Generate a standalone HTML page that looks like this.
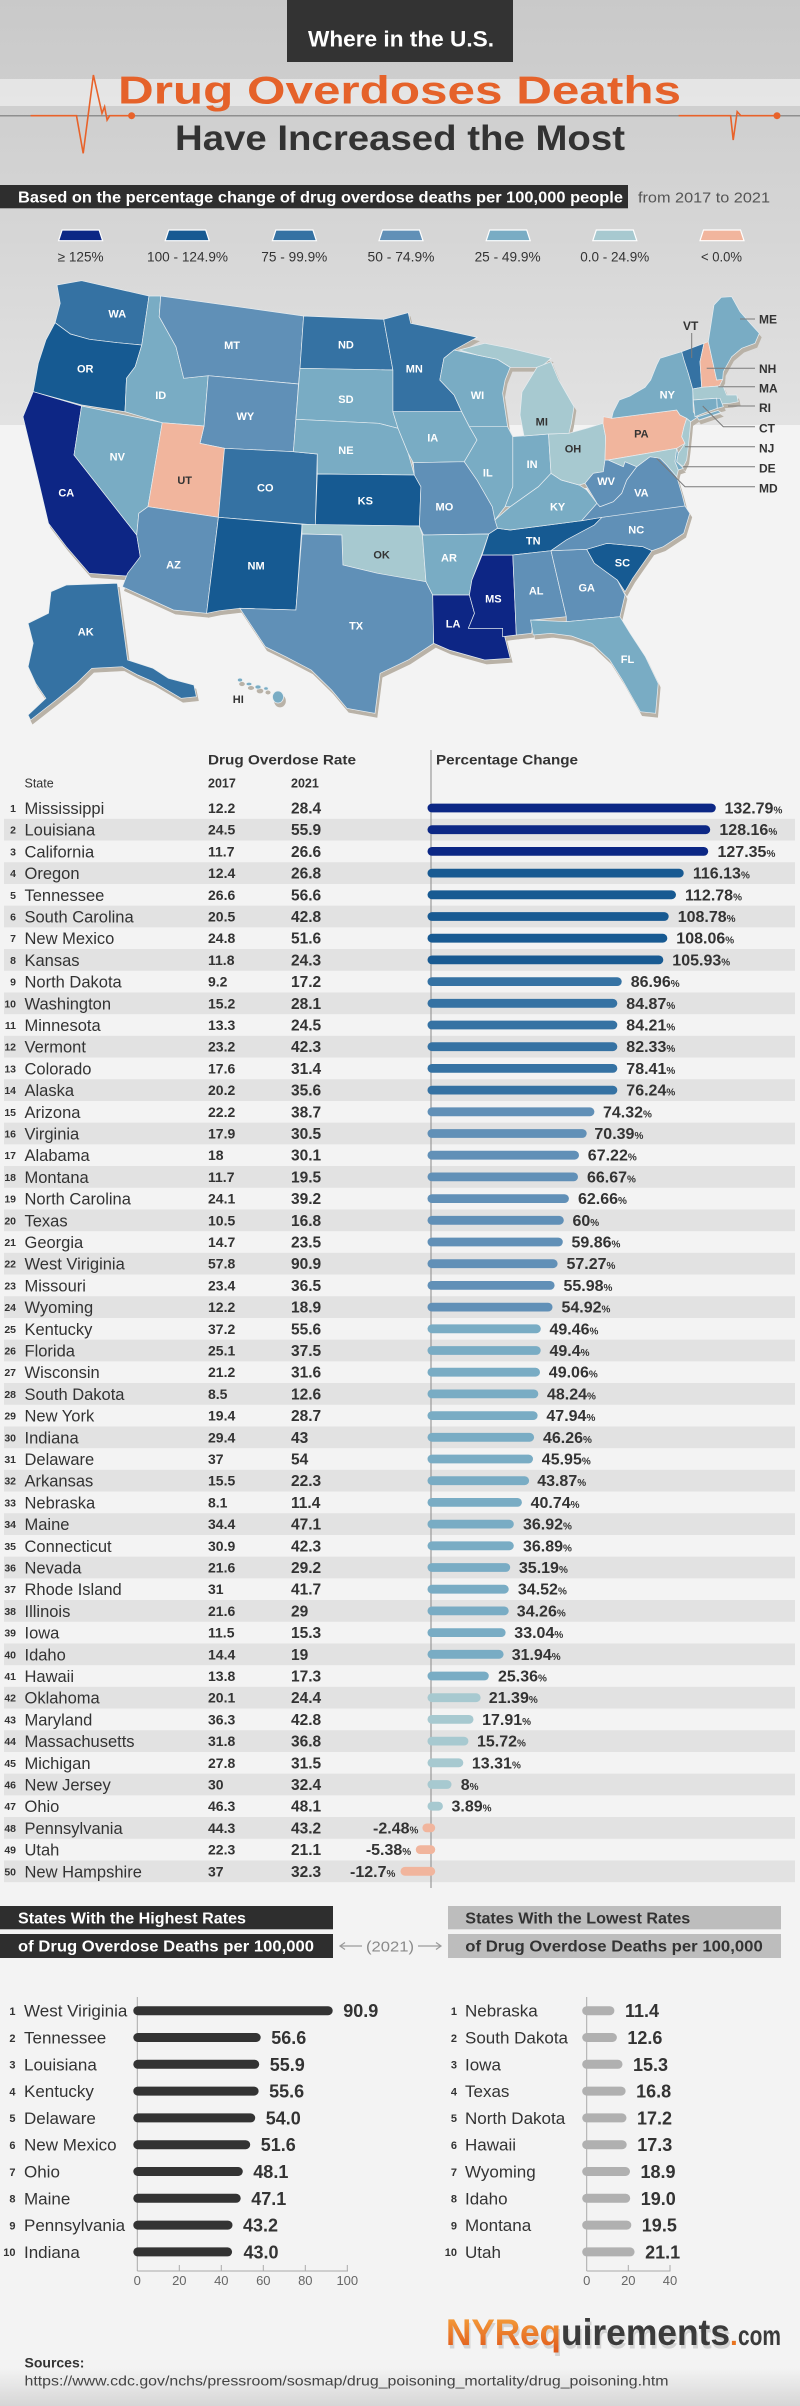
<!DOCTYPE html>
<html><head><meta charset="utf-8"><title>Where in the U.S. Drug Overdoses Deaths Have Increased the Most</title>
<style>
html,body{margin:0;padding:0;background:#f3f3f3}
svg{display:block}
text{font-family:"Liberation Sans",Arial,sans-serif;fill:#333}
.rk{font-size:10.5px;font-weight:bold;text-anchor:end}
.nm{font-size:16.5px}
.a{font-size:14px;font-weight:bold}
.b{font-size:15.5px;font-weight:bold}
.p{font-size:16px;font-weight:bold}
.p tspan{font-size:10px}
.ml{font-size:11px;font-weight:bold;fill:#fff;text-anchor:middle}
.md{fill:#333}
.nl{font-size:12px;font-weight:bold;fill:#333}
.c1{fill:#0c2785}.c2{fill:#185a92}.c3{fill:#3572a3}.c4{fill:#6190b7}.c5{fill:#79acc4}.c6{fill:#a7c9d0}.c7{fill:#f1b59d}
.st polygon,.st ellipse{stroke:#e6edf1;stroke-width:0.7}
.bn{font-size:17px}
.bv{font-size:18px;font-weight:bold}
.br{font-size:11px;font-weight:bold;text-anchor:end}
.ax{font-size:13px;fill:#666;text-anchor:middle}
.lg{font-size:13.5px;text-anchor:middle}
</style></head>
<body>
<svg width="800" height="2406" viewBox="0 0 800 2406" xmlns="http://www.w3.org/2000/svg">
<defs>
<linearGradient id="hdr" x1="0" y1="0" x2="0" y2="1">
<stop offset="0" stop-color="#c9c9c9"/><stop offset="0.55" stop-color="#d6d6d6"/><stop offset="1" stop-color="#e2e2e2"/>
</linearGradient>
<linearGradient id="btm" x1="0" y1="0" x2="0" y2="1">
<stop offset="0" stop-color="#f3f3f3"/><stop offset="1" stop-color="#d6d6d6"/>
</linearGradient>
<linearGradient id="og" x1="0" y1="0" x2="0" y2="1">
<stop offset="0" stop-color="#f7a73f"/><stop offset="1" stop-color="#df5519"/>
</linearGradient>
<filter id="sh" x="-5%" y="-5%" width="110%" height="115%">
<feOffset in="SourceAlpha" dx="2" dy="4" result="o"/>
<feFlood flood-color="#b9b2a7"/>
<feComposite in2="o" operator="in" result="s"/>
<feMerge><feMergeNode in="s"/><feMergeNode in="SourceGraphic"/></feMerge>
</filter>
</defs>

<!-- backgrounds -->
<rect x="0" y="0" width="800" height="2406" fill="#f3f3f3"/>
<rect x="0" y="0" width="800" height="425" fill="url(#hdr)"/>
<rect x="0" y="2368" width="800" height="38" fill="url(#btm)"/>

<!-- header -->
<rect x="287" y="0" width="226" height="62" fill="#333"/>
<text x="308" y="46.7" font-size="22" font-weight="bold" style="fill:#fff" textLength="186" lengthAdjust="spacingAndGlyphs">Where in the U.S.</text>
<rect x="0" y="79" width="800" height="27" fill="#efefef" opacity="0.7"/>
<line x1="0" y1="115.7" x2="800" y2="115.7" stroke="#8f8f8f" stroke-width="1.5"/>
<polyline points="30.6,115.7 76.5,115.7 83.2,153.3 93.4,75 102,113.3 104.6,106.7 107.1,120 109.7,115.7 131.6,115.7" fill="none" stroke="#e8622a" stroke-width="1.6"/>
<circle cx="131.6" cy="115.7" r="3.5" fill="#e8622a"/>
<polyline points="678.6,115.7 730.6,115.7 733.2,140 737.2,111.7 740.8,115.7 777,115.7" fill="none" stroke="#e8622a" stroke-width="1.6"/>
<circle cx="777" cy="115.7" r="3.5" fill="#e8622a"/>
<text x="118" y="103.3" font-size="39" font-weight="bold" style="fill:#e5622a" textLength="563" lengthAdjust="spacingAndGlyphs">Drug Overdoses Deaths</text>
<text x="175" y="150" font-size="35" font-weight="bold" style="fill:#333" textLength="450" lengthAdjust="spacingAndGlyphs">Have Increased the Most</text>

<rect x="0" y="185" width="628" height="23.3" fill="#2e2e2e"/>
<text x="18" y="202.5" font-size="16" font-weight="bold" style="fill:#fff" textLength="605" lengthAdjust="spacingAndGlyphs">Based on the percentage change of drug overdose deaths per 100,000 people</text>
<text x="638" y="202.5" font-size="15" style="fill:#555" textLength="132" lengthAdjust="spacingAndGlyphs">from 2017 to 2021</text>

<!-- legend -->
<g stroke="#fff" stroke-width="1.2">
<polygon class="c1" points="62.1,230 99.1,230 102.6,240.7 58.6,240.7"/>
<polygon class="c2" points="168.7,230 205.7,230 209.2,240.7 165.2,240.7"/>
<polygon class="c3" points="275.9,230 312.9,230 316.4,240.7 272.4,240.7"/>
<polygon class="c4" points="382.5,230 419.5,230 423,240.7 379,240.7"/>
<polygon class="c5" points="489.7,230 526.7,230 530.2,240.7 486.2,240.7"/>
<polygon class="c6" points="596.3,230 633.3,230 636.8,240.7 592.8,240.7"/>
<polygon class="c7" points="703.5,230 740.5,230 744,240.7 700,240.7"/>
</g>
<text class="lg" x="80.6" y="261.7" textLength="46" lengthAdjust="spacingAndGlyphs">≥ 125%</text>
<text class="lg" x="187.5" y="261.7" textLength="81" lengthAdjust="spacingAndGlyphs">100 - 124.9%</text>
<text class="lg" x="294.3" y="261.7" textLength="66" lengthAdjust="spacingAndGlyphs">75 - 99.9%</text>
<text class="lg" x="401" y="261.7" textLength="67" lengthAdjust="spacingAndGlyphs">50 - 74.9%</text>
<text class="lg" x="507.6" y="261.7" textLength="66" lengthAdjust="spacingAndGlyphs">25 - 49.9%</text>
<text class="lg" x="614.8" y="261.7" textLength="69" lengthAdjust="spacingAndGlyphs">0.0 - 24.9%</text>
<text class="lg" x="721.5" y="261.7" textLength="41" lengthAdjust="spacingAndGlyphs">&lt; 0.0%</text>

<!-- map -->
<g class="st" filter="url(#sh)">
<polygon class="c3" points="57,285 81.6,280.7 149,296 141.8,345 117.3,342.7 89.3,339.3 70.4,334 55.1,322.7 60.2,303.3"/>
<polygon class="c2" points="55.1,322.7 70.4,334 89.3,339.3 117.3,342.7 141.8,345 135.2,366.7 126.5,378.3 125,411.7 81.6,405 33.2,391.7 38.3,363.3 45.9,340"/>
<polygon class="c1" points="33.2,391.7 81.6,406 74,455 136.7,535 140.3,556.7 126.5,576 89.3,573.3 66.3,546.7 48.5,523.3 38.3,480 23,416.7"/>
<polygon class="c5" points="81.6,406 162.2,422.7 148,506.7 138.8,513.3 136.7,535 74,455"/>
<polygon class="c5" points="149,296 160.7,296 159.2,316.7 176,346.7 183.7,378.3 208.2,375.7 204.1,426 162.2,422.7 125,411.7 126.5,378.3 135.2,366.7 141.8,345"/>
<polygon class="c4" points="160.7,296 303.6,316 300,368.3 298.5,384 208.2,375.7 183.7,378.3 176,346.7 159.2,316.7"/>
<polygon class="c4" points="208.2,375.7 298.5,384 293.4,451.7 224.5,448.3 200,443.3 204.1,426"/>
<polygon class="c7" points="162.2,422.7 204.1,426 200,443.3 224.5,448.3 218.4,517.3 148,506.7"/>
<polygon class="c3" points="224.5,448.3 293.4,451.7 317.3,454 315.3,525 218.4,517.3"/>
<polygon class="c4" points="148,506.7 218.4,517.3 206.6,613.3 173.5,610 122.4,586.7 127.6,573.3 140.3,556.7 136.7,535 138.8,513.3"/>
<polygon class="c2" points="218.4,517.3 302,524.3 295.9,610 239.8,608.3 219.4,610.7 206.6,613.3"/>
<polygon class="c3" points="303.6,316 383.7,319.3 392.9,370 300,368.3"/>
<polygon class="c5" points="300,368.3 392.9,370 392.9,411.7 398,428.3 378.6,423.3 295.9,419.3"/>
<polygon class="c5" points="295.9,419.3 378.6,423.3 398,428.3 408.2,453.3 414.3,475 317.3,474 317.3,454 293.4,451.7"/>
<polygon class="c2" points="317.3,474 414.3,475 420.9,486.7 419.4,526 315.3,525"/>
<polygon class="c6" points="302,524.3 419.4,526 422.4,535 426,581.7 403,578.3 377.6,573.3 342.9,565 341.8,535 302,534"/>
<polygon class="c4" points="302,534 341.8,535 342.9,565 377.6,573.3 426,581.7 432.7,595 433.7,643.3 408.2,660 380.1,673.3 375,713.3 346.9,708.3 331.6,690 311.2,670 285.7,656.7 265.3,646.7 239.8,608.3 295.9,610"/>
<polygon class="c3" points="383.7,319.3 408.2,312.7 410.7,323.3 443.9,330 477,337.3 454.1,350 443.9,358.3 439.8,380 454.1,395 461.7,411.7 392.9,411.7 392.9,370"/>
<polygon class="c5" points="392.9,411.7 461.7,411.7 469.4,426.7 477,440 464.3,461.7 413.3,462.7 408.2,453.3 398,428.3"/>
<polygon class="c4" points="413.3,462.7 464.3,461.7 477,480 492.3,506.7 497.5,528.3 488.8,534 423.5,535 419.4,526 420.9,486.7 414.3,475"/>
<polygon class="c5" points="423.5,535 488.8,534 482.1,553.3 471.9,580 469.4,595 432.7,595 426,581.7 422.4,535"/>
<polygon class="c1" points="432.7,595 469.4,595 474.5,613.3 468.4,628.3 502.6,628.3 510.2,658.3 484.7,660 449,650 433.7,643.3"/>
<polygon class="c1" points="482.1,555 512.8,555 516.3,635 502.6,636.7 502.6,628.3 468.4,628.3 474.5,613.3 469.4,595 471.9,580"/>
<polygon class="c2" points="497.5,528.3 510.2,530 581.6,520.7 602,517.3 594.4,525 566.3,540 551,550.7 512.8,555 482.1,555 488.8,534"/>
<polygon class="c5" points="510.2,506.7 538.3,486.7 551,473.3 561.2,480 579.1,485 586.7,490 597,503.3 581.6,520.7 510.2,530 497.5,528.3 494.9,520"/>
<polygon class="c5" points="469.4,426.7 507.6,426.7 512.8,436.7 512.8,486.7 505.1,506.7 494.9,520 492.3,506.7 477,480 464.3,461.7 477,440"/>
<polygon class="c5" points="512.8,436.7 548.5,434 551,473.3 538.3,486.7 510.2,506.7 505.1,506.7 512.8,486.7"/>
<polygon class="c6" points="548.5,434 568.9,433.3 586.7,428.3 603,423.3 605.6,436.7 605,460 603.3,471.7 593.3,473.3 585,483.3 579.1,485 561.2,480 551,473.3"/>
<polygon class="c5" points="443.9,358.3 454.1,350 477,355 497.5,359.3 510.2,367.3 505.1,380 502.6,393.3 507.6,426.7 469.4,426.7 461.7,411.7 454.1,395 439.8,380"/>
<polygon class="c6" points="459.2,350 484.7,343.3 510.2,348.3 551,358.3 540.8,367.3 510.2,367.3 497.5,359.3 477,355"/>
<polygon class="c6" points="522,392 537,367.3 551,361.7 558.7,380 566.3,393.3 574,406.7 571.4,423.3 568.9,433.3 548.5,434 524,436 520,415"/>
<polygon class="c4" points="512.8,555 551,550.7 566.3,616.7 533.2,620 531.6,633.3 516.3,635"/>
<polygon class="c4" points="551,550.7 586.7,549.3 594.4,563.3 617.3,580 625,595 619.9,616.7 566.3,621.7 566.3,616.7"/>
<polygon class="c5" points="530.6,620 566.3,621.7 619.9,616.7 630.1,633.3 645.4,656.7 658.2,683.3 655.6,713.3 640.3,711.7 622.4,680 609.7,660 591.8,643.3 571.4,636 551,633.3 533.2,635"/>
<polygon class="c2" points="586.7,549.3 607.1,543.3 642.9,546.7 652,550.7 632.7,578.3 625,591.7 617.3,580 594.4,563.3"/>
<polygon class="c4" points="551,550.7 566.3,540 594.4,525 602,517.3 683.7,504 689.8,513.3 683.7,533.3 663.3,546.7 652,550.7 642.9,546.7 607.1,543.3 586.7,549.3"/>
<polygon class="c4" points="636.7,466.7 650,456.7 660,458.3 666.7,465 676.7,476.7 681.7,493.3 685,506 602,517.3 581.6,520.7 597,503.3 600,506.7 613.3,501.7 621.7,493.3 626.7,480"/>
<polygon class="c4" points="605,460 608.3,460 623.3,466.7 625,461.7 636.7,466.7 626.7,480 621.7,493.3 613.3,501.7 600,506.7 597,503.3 585,483.3 593.3,473.3 603.3,471.7"/>
<polygon class="c7" points="603.3,416.7 611.7,418.3 676.7,410 680,415 686.7,418.3 684,426.7 681.7,436.7 685,443.3 676.7,448.3 608.3,460 605,460 605.6,436.7 603,423.3"/>
<polygon class="c6" points="608.3,460 676.7,448.3 675,461.7 678.3,470 676.7,476.7 666.7,465 660,458.3 650,456.7 636.7,466.7 625,461.7 623.3,466.7"/>
<polygon class="c5" points="676.7,448.3 678.3,453.3 676.7,461.7 683.3,468.3 678.3,470 675,461.7"/>
<polygon class="c6" points="686.7,418.3 690.7,421.7 690,430 688.3,446.7 686.7,460 683.3,466.7 676.7,461.7 678.3,453.3 685,443.3 681.7,436.7 684,426.7"/>
<polygon class="c5" points="660,358.3 681.7,351.7 688.3,373.3 692.7,389 693.3,411.7 697.3,417.3 690.7,421.7 686.7,418.3 680,415 676.7,410 611.7,418.3 613.3,411.7 619.3,400 630,396 645,387.3 650.7,380 656.7,365"/>
<polygon class="c5" points="697,417 718,410.5 721,412.5 699,420"/>
<polygon class="c3" points="681.7,351.7 704,343.3 700,361.7 701.7,387.3 692.7,389 688.3,373.3 684,360"/>
<polygon class="c7" points="704,343.3 708.3,341.7 716.7,380 722.7,379.3 719.3,386 701.7,387.3 700,361.7"/>
<polygon class="c5" points="708.3,341.7 714,305 721.3,297.3 731.7,296.7 740,311.7 751.7,325 759.3,333.3 755,343.3 741.7,348.3 731.7,356.7 723.3,371.7 722.7,379.3 716.7,380"/>
<polygon class="c6" points="692.7,389 701.7,387.3 719.3,386 723.3,386.7 726.7,395 736.7,395 738.3,401.7 730,403.3 720,404 716.7,398.3 693.3,400"/>
<polygon class="c5" points="693.3,400 716.7,398.3 717.3,408.3 703.3,413.3 695,416.7"/>
<polygon class="c5" points="716.7,398.3 720,398.3 723.3,406.7 717.3,408.3"/>
<polygon class="c3" points="28.1,623.3 48.5,613.3 51,591.7 66.3,585 117.3,583.3 127.6,660 153.1,668.3 168.4,678.3 193.9,685 196.4,696.7 181.1,698.3 153.1,681.7 137.8,675 122.4,666.7 91.8,668.3 76.5,683.3 56.1,700 30.6,720 28.1,715 45.9,698.3 35.7,683.3 28.1,666.7 33.2,643.3"/>
<ellipse class="c5" cx="240" cy="680" rx="2.5" ry="1.8"/>
<ellipse class="c5" cx="249" cy="684" rx="2.8" ry="1.6"/>
<ellipse class="c5" cx="258" cy="687" rx="3" ry="2"/>
<ellipse class="c5" cx="266" cy="688.5" rx="2.2" ry="1.6"/>
<ellipse class="c5" cx="278" cy="697" rx="5.5" ry="6"/>
</g>

<!-- map labels -->
<g>
<text class="ml" x="117.3" y="317.3">WA</text>
<text class="ml" x="85.2" y="372.7">OR</text>
<text class="ml" x="66.3" y="496.3">CA</text>
<text class="ml" x="117.3" y="460.7">NV</text>
<text class="ml" x="160.7" y="399">ID</text>
<text class="ml" x="232.1" y="349">MT</text>
<text class="ml" x="245.4" y="420">WY</text>
<text class="ml md" x="184.7" y="484">UT</text>
<text class="ml" x="265.3" y="491.3">CO</text>
<text class="ml" x="173.5" y="568.3">AZ</text>
<text class="ml" x="256.1" y="569.7">NM</text>
<text class="ml" x="345.9" y="348.3">ND</text>
<text class="ml" x="345.9" y="403">SD</text>
<text class="ml" x="345.9" y="454">NE</text>
<text class="ml" x="365.3" y="504.7">KS</text>
<text class="ml md" x="381.6" y="558.3">OK</text>
<text class="ml" x="356.1" y="629.7">TX</text>
<text class="ml" x="414.3" y="372.7">MN</text>
<text class="ml" x="432.7" y="441.7">IA</text>
<text class="ml" x="444.4" y="510.7">MO</text>
<text class="ml" x="449" y="561.7">AR</text>
<text class="ml" x="453.1" y="627.3">LA</text>
<text class="ml" x="477.5" y="399">WI</text>
<text class="ml" x="487.8" y="476.3">IL</text>
<text class="ml md" x="541.8" y="425.7">MI</text>
<text class="ml" x="532.1" y="468">IN</text>
<text class="ml md" x="573" y="452.3">OH</text>
<text class="ml" x="557.6" y="510.7">KY</text>
<text class="ml" x="533.2" y="544.7">TN</text>
<text class="ml" x="493.4" y="602.3">MS</text>
<text class="ml" x="536.2" y="594.7">AL</text>
<text class="ml" x="586.7" y="591.3">GA</text>
<text class="ml" x="627.5" y="663">FL</text>
<text class="ml" x="622.4" y="566.7">SC</text>
<text class="ml" x="636.2" y="533.3">NC</text>
<text class="ml" x="641.3" y="496.3">VA</text>
<text class="ml" x="606.1" y="485">WV</text>
<text class="ml md" x="641.3" y="437.3">PA</text>
<text class="ml" x="667.3" y="398.3">NY</text>
<text class="ml" x="85.7" y="635.7">AK</text>
<text class="ml md" x="238.3" y="703">HI</text>
</g>
<g stroke="#7a7a7a" stroke-width="1" fill="none">
<line x1="740" y1="319" x2="755" y2="319"/>
<line x1="691.7" y1="333" x2="691.7" y2="358"/>
<line x1="706.7" y1="368.3" x2="755" y2="368.3"/>
<line x1="718.3" y1="386.7" x2="755" y2="386.7"/>
<line x1="728" y1="406" x2="755" y2="406"/>
<polyline points="702.7,406 723.3,426.7 755,426.7"/>
<line x1="685" y1="446.7" x2="755" y2="446.7"/>
<line x1="683" y1="466.7" x2="755" y2="466.7"/>
<polyline points="656.7,458.3 685,486.7 755,486.7"/>
</g>
<text class="nl" x="759" y="323.3">ME</text>
<text class="nl" x="683" y="330">VT</text>
<text class="nl" x="759" y="373">NH</text>
<text class="nl" x="759" y="392.5">MA</text>
<text class="nl" x="759" y="412">RI</text>
<text class="nl" x="759" y="432.5">CT</text>
<text class="nl" x="759" y="452.5">NJ</text>
<text class="nl" x="759" y="472.5">DE</text>
<text class="nl" x="759" y="492.5">MD</text>

<!-- table header -->
<text x="208" y="764.5" class="a" textLength="148" lengthAdjust="spacingAndGlyphs">Drug Overdose Rate</text>
<text x="436" y="764.5" class="a" textLength="142" lengthAdjust="spacingAndGlyphs">Percentage Change</text>
<text x="24.5" y="787.5" font-size="12.5">State</text>
<text x="208" y="787.5" font-size="12.5" font-weight="bold">2017</text>
<text x="291" y="787.5" font-size="12.5" font-weight="bold">2021</text>

<!-- stripes -->
<g fill="#e2e2e2">
<rect x="4" y="818.85" width="791" height="21.7"/>
<rect x="4" y="862.25" width="791" height="21.7"/>
<rect x="4" y="905.65" width="791" height="21.7"/>
<rect x="4" y="949.05" width="791" height="21.7"/>
<rect x="4" y="992.45" width="791" height="21.7"/>
<rect x="4" y="1035.85" width="791" height="21.7"/>
<rect x="4" y="1079.25" width="791" height="21.7"/>
<rect x="4" y="1122.65" width="791" height="21.7"/>
<rect x="4" y="1166.05" width="791" height="21.7"/>
<rect x="4" y="1209.45" width="791" height="21.7"/>
<rect x="4" y="1252.85" width="791" height="21.7"/>
<rect x="4" y="1296.25" width="791" height="21.7"/>
<rect x="4" y="1339.65" width="791" height="21.7"/>
<rect x="4" y="1383.05" width="791" height="21.7"/>
<rect x="4" y="1426.45" width="791" height="21.7"/>
<rect x="4" y="1469.85" width="791" height="21.7"/>
<rect x="4" y="1513.25" width="791" height="21.7"/>
<rect x="4" y="1556.65" width="791" height="21.7"/>
<rect x="4" y="1600.05" width="791" height="21.7"/>
<rect x="4" y="1643.45" width="791" height="21.7"/>
<rect x="4" y="1686.85" width="791" height="21.7"/>
<rect x="4" y="1730.25" width="791" height="21.7"/>
<rect x="4" y="1773.65" width="791" height="21.7"/>
<rect x="4" y="1817.05" width="791" height="21.7"/>
<rect x="4" y="1860.45" width="791" height="21.7"/>
</g>
<line x1="431" y1="750" x2="431" y2="1888" stroke="#9a9a9a" stroke-width="1.2"/>

<!-- rows -->
<g transform="translate(0,808)"><text class="rk" x="16" y="4">1</text><text class="nm" x="24.5" y="6">Mississippi</text><text class="a" x="208" y="5">12.2</text><text class="b" x="291" y="5.5">28.4</text><rect class="c1" x="427.5" y="-4.4" width="288.3" height="8.8" rx="4.4"/><text class="p" x="724.5" y="5.5">132.79<tspan>%</tspan></text></g>
<g transform="translate(0,829.7)"><text class="rk" x="16" y="4">2</text><text class="nm" x="24.5" y="6">Louisiana</text><text class="a" x="208" y="5">24.5</text><text class="b" x="291" y="5.5">55.9</text><rect class="c1" x="427.5" y="-4.4" width="282.7" height="8.8" rx="4.4"/><text class="p" x="719.4" y="5.5">128.16<tspan>%</tspan></text></g>
<g transform="translate(0,851.4)"><text class="rk" x="16" y="4">3</text><text class="nm" x="24.5" y="6">California</text><text class="a" x="208" y="5">11.7</text><text class="b" x="291" y="5.5">26.6</text><rect class="c1" x="427.5" y="-4.4" width="280.7" height="8.8" rx="4.4"/><text class="p" x="717.5" y="5.5">127.35<tspan>%</tspan></text></g>
<g transform="translate(0,873.1)"><text class="rk" x="16" y="4">4</text><text class="nm" x="24.5" y="6">Oregon</text><text class="a" x="208" y="5">12.4</text><text class="b" x="291" y="5.5">26.8</text><rect class="c2" x="427.5" y="-4.4" width="256.2" height="8.8" rx="4.4"/><text class="p" x="692.9" y="5.5">116.13<tspan>%</tspan></text></g>
<g transform="translate(0,894.8)"><text class="rk" x="16" y="4">5</text><text class="nm" x="24.5" y="6">Tennessee</text><text class="a" x="208" y="5">26.6</text><text class="b" x="291" y="5.5">56.6</text><rect class="c2" x="427.5" y="-4.4" width="248.5" height="8.8" rx="4.4"/><text class="p" x="685" y="5.5">112.78<tspan>%</tspan></text></g>
<g transform="translate(0,916.5)"><text class="rk" x="16" y="4">6</text><text class="nm" x="24.5" y="6">South Carolina</text><text class="a" x="208" y="5">20.5</text><text class="b" x="291" y="5.5">42.8</text><rect class="c2" x="427.5" y="-4.4" width="241.2" height="8.8" rx="4.4"/><text class="p" x="677.7" y="5.5">108.78<tspan>%</tspan></text></g>
<g transform="translate(0,938.2)"><text class="rk" x="16" y="4">7</text><text class="nm" x="24.5" y="6">New Mexico</text><text class="a" x="208" y="5">24.8</text><text class="b" x="291" y="5.5">51.6</text><rect class="c2" x="427.5" y="-4.4" width="239.8" height="8.8" rx="4.4"/><text class="p" x="676.3" y="5.5">108.06<tspan>%</tspan></text></g>
<g transform="translate(0,959.9)"><text class="rk" x="16" y="4">8</text><text class="nm" x="24.5" y="6">Kansas</text><text class="a" x="208" y="5">11.8</text><text class="b" x="291" y="5.5">24.3</text><rect class="c2" x="427.5" y="-4.4" width="235.8" height="8.8" rx="4.4"/><text class="p" x="672.3" y="5.5">105.93<tspan>%</tspan></text></g>
<g transform="translate(0,981.6)"><text class="rk" x="16" y="4">9</text><text class="nm" x="24.5" y="6">North Dakota</text><text class="a" x="208" y="5">9.2</text><text class="b" x="291" y="5.5">17.2</text><rect class="c3" x="427.5" y="-4.4" width="194.2" height="8.8" rx="4.4"/><text class="p" x="630.7" y="5.5">86.96<tspan>%</tspan></text></g>
<g transform="translate(0,1003.3)"><text class="rk" x="16" y="4">10</text><text class="nm" x="24.5" y="6">Washington</text><text class="a" x="208" y="5">15.2</text><text class="b" x="291" y="5.5">28.1</text><rect class="c3" x="427.5" y="-4.4" width="189.8" height="8.8" rx="4.4"/><text class="p" x="626.3" y="5.5">84.87<tspan>%</tspan></text></g>
<g transform="translate(0,1025)"><text class="rk" x="16" y="4">11</text><text class="nm" x="24.5" y="6">Minnesota</text><text class="a" x="208" y="5">13.3</text><text class="b" x="291" y="5.5">24.5</text><rect class="c3" x="427.5" y="-4.4" width="189.8" height="8.8" rx="4.4"/><text class="p" x="626.3" y="5.5">84.21<tspan>%</tspan></text></g>
<g transform="translate(0,1046.7)"><text class="rk" x="16" y="4">12</text><text class="nm" x="24.5" y="6">Vermont</text><text class="a" x="208" y="5">23.2</text><text class="b" x="291" y="5.5">42.3</text><rect class="c3" x="427.5" y="-4.4" width="189.8" height="8.8" rx="4.4"/><text class="p" x="626.3" y="5.5">82.33<tspan>%</tspan></text></g>
<g transform="translate(0,1068.4)"><text class="rk" x="16" y="4">13</text><text class="nm" x="24.5" y="6">Colorado</text><text class="a" x="208" y="5">17.6</text><text class="b" x="291" y="5.5">31.4</text><rect class="c3" x="427.5" y="-4.4" width="189.8" height="8.8" rx="4.4"/><text class="p" x="626.3" y="5.5">78.41<tspan>%</tspan></text></g>
<g transform="translate(0,1090.1)"><text class="rk" x="16" y="4">14</text><text class="nm" x="24.5" y="6">Alaska</text><text class="a" x="208" y="5">20.2</text><text class="b" x="291" y="5.5">35.6</text><rect class="c3" x="427.5" y="-4.4" width="189.8" height="8.8" rx="4.4"/><text class="p" x="626.3" y="5.5">76.24<tspan>%</tspan></text></g>
<g transform="translate(0,1111.8)"><text class="rk" x="16" y="4">15</text><text class="nm" x="24.5" y="6">Arizona</text><text class="a" x="208" y="5">22.2</text><text class="b" x="291" y="5.5">38.7</text><rect class="c4" x="427.5" y="-4.4" width="166.9" height="8.8" rx="4.4"/><text class="p" x="603" y="5.5">74.32<tspan>%</tspan></text></g>
<g transform="translate(0,1133.5)"><text class="rk" x="16" y="4">16</text><text class="nm" x="24.5" y="6">Virginia</text><text class="a" x="208" y="5">17.9</text><text class="b" x="291" y="5.5">30.5</text><rect class="c4" x="427.5" y="-4.4" width="159.2" height="8.8" rx="4.4"/><text class="p" x="594.4" y="5.5">70.39<tspan>%</tspan></text></g>
<g transform="translate(0,1155.2)"><text class="rk" x="16" y="4">17</text><text class="nm" x="24.5" y="6">Alabama</text><text class="a" x="208" y="5">18</text><text class="b" x="291" y="5.5">30.1</text><rect class="c4" x="427.5" y="-4.4" width="151.5" height="8.8" rx="4.4"/><text class="p" x="587.8" y="5.5">67.22<tspan>%</tspan></text></g>
<g transform="translate(0,1176.9)"><text class="rk" x="16" y="4">18</text><text class="nm" x="24.5" y="6">Montana</text><text class="a" x="208" y="5">11.7</text><text class="b" x="291" y="5.5">19.5</text><rect class="c4" x="427.5" y="-4.4" width="150.5" height="8.8" rx="4.4"/><text class="p" x="587" y="5.5">66.67<tspan>%</tspan></text></g>
<g transform="translate(0,1198.6)"><text class="rk" x="16" y="4">19</text><text class="nm" x="24.5" y="6">North Carolina</text><text class="a" x="208" y="5">24.1</text><text class="b" x="291" y="5.5">39.2</text><rect class="c4" x="427.5" y="-4.4" width="141.4" height="8.8" rx="4.4"/><text class="p" x="578" y="5.5">62.66<tspan>%</tspan></text></g>
<g transform="translate(0,1220.3)"><text class="rk" x="16" y="4">20</text><text class="nm" x="24.5" y="6">Texas</text><text class="a" x="208" y="5">10.5</text><text class="b" x="291" y="5.5">16.8</text><rect class="c4" x="427.5" y="-4.4" width="136.3" height="8.8" rx="4.4"/><text class="p" x="572.5" y="5.5">60<tspan>%</tspan></text></g>
<g transform="translate(0,1242)"><text class="rk" x="16" y="4">21</text><text class="nm" x="24.5" y="6">Georgia</text><text class="a" x="208" y="5">14.7</text><text class="b" x="291" y="5.5">23.5</text><rect class="c4" x="427.5" y="-4.4" width="135.3" height="8.8" rx="4.4"/><text class="p" x="571.5" y="5.5">59.86<tspan>%</tspan></text></g>
<g transform="translate(0,1263.7)"><text class="rk" x="16" y="4">22</text><text class="nm" x="24.5" y="6">West Viriginia</text><text class="a" x="208" y="5">57.8</text><text class="b" x="291" y="5.5">90.9</text><rect class="c4" x="427.5" y="-4.4" width="130.1" height="8.8" rx="4.4"/><text class="p" x="566.5" y="5.5">57.27<tspan>%</tspan></text></g>
<g transform="translate(0,1285.4)"><text class="rk" x="16" y="4">23</text><text class="nm" x="24.5" y="6">Missouri</text><text class="a" x="208" y="5">23.4</text><text class="b" x="291" y="5.5">36.5</text><rect class="c4" x="427.5" y="-4.4" width="127.1" height="8.8" rx="4.4"/><text class="p" x="563.5" y="5.5">55.98<tspan>%</tspan></text></g>
<g transform="translate(0,1307.1)"><text class="rk" x="16" y="4">24</text><text class="nm" x="24.5" y="6">Wyoming</text><text class="a" x="208" y="5">12.2</text><text class="b" x="291" y="5.5">18.9</text><rect class="c4" x="427.5" y="-4.4" width="125" height="8.8" rx="4.4"/><text class="p" x="561.5" y="5.5">54.92<tspan>%</tspan></text></g>
<g transform="translate(0,1328.8)"><text class="rk" x="16" y="4">25</text><text class="nm" x="24.5" y="6">Kentucky</text><text class="a" x="208" y="5">37.2</text><text class="b" x="291" y="5.5">55.6</text><rect class="c5" x="427.5" y="-4.4" width="113.3" height="8.8" rx="4.4"/><text class="p" x="549.5" y="5.5">49.46<tspan>%</tspan></text></g>
<g transform="translate(0,1350.5)"><text class="rk" x="16" y="4">26</text><text class="nm" x="24.5" y="6">Florida</text><text class="a" x="208" y="5">25.1</text><text class="b" x="291" y="5.5">37.5</text><rect class="c5" x="427.5" y="-4.4" width="113.2" height="8.8" rx="4.4"/><text class="p" x="549.5" y="5.5">49.4<tspan>%</tspan></text></g>
<g transform="translate(0,1372.2)"><text class="rk" x="16" y="4">27</text><text class="nm" x="24.5" y="6">Wisconsin</text><text class="a" x="208" y="5">21.2</text><text class="b" x="291" y="5.5">31.6</text><rect class="c5" x="427.5" y="-4.4" width="112.5" height="8.8" rx="4.4"/><text class="p" x="548.8" y="5.5">49.06<tspan>%</tspan></text></g>
<g transform="translate(0,1393.9)"><text class="rk" x="16" y="4">28</text><text class="nm" x="24.5" y="6">South Dakota</text><text class="a" x="208" y="5">8.5</text><text class="b" x="291" y="5.5">12.6</text><rect class="c5" x="427.5" y="-4.4" width="110.8" height="8.8" rx="4.4"/><text class="p" x="547" y="5.5">48.24<tspan>%</tspan></text></g>
<g transform="translate(0,1415.6)"><text class="rk" x="16" y="4">29</text><text class="nm" x="24.5" y="6">New York</text><text class="a" x="208" y="5">19.4</text><text class="b" x="291" y="5.5">28.7</text><rect class="c5" x="427.5" y="-4.4" width="110.1" height="8.8" rx="4.4"/><text class="p" x="546.4" y="5.5">47.94<tspan>%</tspan></text></g>
<g transform="translate(0,1437.3)"><text class="rk" x="16" y="4">30</text><text class="nm" x="24.5" y="6">Indiana</text><text class="a" x="208" y="5">29.4</text><text class="b" x="291" y="5.5">43</text><rect class="c5" x="427.5" y="-4.4" width="106.6" height="8.8" rx="4.4"/><text class="p" x="543" y="5.5">46.26<tspan>%</tspan></text></g>
<g transform="translate(0,1459)"><text class="rk" x="16" y="4">31</text><text class="nm" x="24.5" y="6">Delaware</text><text class="a" x="208" y="5">37</text><text class="b" x="291" y="5.5">54</text><rect class="c5" x="427.5" y="-4.4" width="105.5" height="8.8" rx="4.4"/><text class="p" x="541.8" y="5.5">45.95<tspan>%</tspan></text></g>
<g transform="translate(0,1480.7)"><text class="rk" x="16" y="4">32</text><text class="nm" x="24.5" y="6">Arkansas</text><text class="a" x="208" y="5">15.5</text><text class="b" x="291" y="5.5">22.3</text><rect class="c5" x="427.5" y="-4.4" width="101.6" height="8.8" rx="4.4"/><text class="p" x="537.2" y="5.5">43.87<tspan>%</tspan></text></g>
<g transform="translate(0,1502.4)"><text class="rk" x="16" y="4">33</text><text class="nm" x="24.5" y="6">Nebraska</text><text class="a" x="208" y="5">8.1</text><text class="b" x="291" y="5.5">11.4</text><rect class="c5" x="427.5" y="-4.4" width="94.4" height="8.8" rx="4.4"/><text class="p" x="530.6" y="5.5">40.74<tspan>%</tspan></text></g>
<g transform="translate(0,1524.1)"><text class="rk" x="16" y="4">34</text><text class="nm" x="24.5" y="6">Maine</text><text class="a" x="208" y="5">34.4</text><text class="b" x="291" y="5.5">47.1</text><rect class="c5" x="427.5" y="-4.4" width="86.3" height="8.8" rx="4.4"/><text class="p" x="523" y="5.5">36.92<tspan>%</tspan></text></g>
<g transform="translate(0,1545.8)"><text class="rk" x="16" y="4">35</text><text class="nm" x="24.5" y="6">Connecticut</text><text class="a" x="208" y="5">30.9</text><text class="b" x="291" y="5.5">42.3</text><rect class="c5" x="427.5" y="-4.4" width="86.3" height="8.8" rx="4.4"/><text class="p" x="523" y="5.5">36.89<tspan>%</tspan></text></g>
<g transform="translate(0,1567.5)"><text class="rk" x="16" y="4">36</text><text class="nm" x="24.5" y="6">Nevada</text><text class="a" x="208" y="5">21.6</text><text class="b" x="291" y="5.5">29.2</text><rect class="c5" x="427.5" y="-4.4" width="82.7" height="8.8" rx="4.4"/><text class="p" x="518.9" y="5.5">35.19<tspan>%</tspan></text></g>
<g transform="translate(0,1589.2)"><text class="rk" x="16" y="4">37</text><text class="nm" x="24.5" y="6">Rhode Island</text><text class="a" x="208" y="5">31</text><text class="b" x="291" y="5.5">41.7</text><rect class="c5" x="427.5" y="-4.4" width="81.2" height="8.8" rx="4.4"/><text class="p" x="517.9" y="5.5">34.52<tspan>%</tspan></text></g>
<g transform="translate(0,1610.9)"><text class="rk" x="16" y="4">38</text><text class="nm" x="24.5" y="6">Illinois</text><text class="a" x="208" y="5">21.6</text><text class="b" x="291" y="5.5">29</text><rect class="c5" x="427.5" y="-4.4" width="81.2" height="8.8" rx="4.4"/><text class="p" x="516.8" y="5.5">34.26<tspan>%</tspan></text></g>
<g transform="translate(0,1632.6)"><text class="rk" x="16" y="4">39</text><text class="nm" x="24.5" y="6">Iowa</text><text class="a" x="208" y="5">11.5</text><text class="b" x="291" y="5.5">15.3</text><rect class="c5" x="427.5" y="-4.4" width="78.1" height="8.8" rx="4.4"/><text class="p" x="514.3" y="5.5">33.04<tspan>%</tspan></text></g>
<g transform="translate(0,1654.3)"><text class="rk" x="16" y="4">40</text><text class="nm" x="24.5" y="6">Idaho</text><text class="a" x="208" y="5">14.4</text><text class="b" x="291" y="5.5">19</text><rect class="c5" x="427.5" y="-4.4" width="76.1" height="8.8" rx="4.4"/><text class="p" x="511.7" y="5.5">31.94<tspan>%</tspan></text></g>
<g transform="translate(0,1676)"><text class="rk" x="16" y="4">41</text><text class="nm" x="24.5" y="6">Hawaii</text><text class="a" x="208" y="5">13.8</text><text class="b" x="291" y="5.5">17.3</text><rect class="c5" x="427.5" y="-4.4" width="61.3" height="8.8" rx="4.4"/><text class="p" x="498" y="5.5">25.36<tspan>%</tspan></text></g>
<g transform="translate(0,1697.7)"><text class="rk" x="16" y="4">42</text><text class="nm" x="24.5" y="6">Oklahoma</text><text class="a" x="208" y="5">20.1</text><text class="b" x="291" y="5.5">24.4</text><rect class="c6" x="427.5" y="-4.4" width="53.1" height="8.8" rx="4.4"/><text class="p" x="488.8" y="5.5">21.39<tspan>%</tspan></text></g>
<g transform="translate(0,1719.4)"><text class="rk" x="16" y="4">43</text><text class="nm" x="24.5" y="6">Maryland</text><text class="a" x="208" y="5">36.3</text><text class="b" x="291" y="5.5">42.8</text><rect class="c6" x="427.5" y="-4.4" width="46" height="8.8" rx="4.4"/><text class="p" x="482.1" y="5.5">17.91<tspan>%</tspan></text></g>
<g transform="translate(0,1741.1)"><text class="rk" x="16" y="4">44</text><text class="nm" x="24.5" y="6">Massachusetts</text><text class="a" x="208" y="5">31.8</text><text class="b" x="291" y="5.5">36.8</text><rect class="c6" x="427.5" y="-4.4" width="40.9" height="8.8" rx="4.4"/><text class="p" x="477" y="5.5">15.72<tspan>%</tspan></text></g>
<g transform="translate(0,1762.8)"><text class="rk" x="16" y="4">45</text><text class="nm" x="24.5" y="6">Michigan</text><text class="a" x="208" y="5">27.8</text><text class="b" x="291" y="5.5">31.5</text><rect class="c6" x="427.5" y="-4.4" width="35.8" height="8.8" rx="4.4"/><text class="p" x="471.9" y="5.5">13.31<tspan>%</tspan></text></g>
<g transform="translate(0,1784.5)"><text class="rk" x="16" y="4">46</text><text class="nm" x="24.5" y="6">New Jersey</text><text class="a" x="208" y="5">30</text><text class="b" x="291" y="5.5">32.4</text><rect class="c6" x="427.5" y="-4.4" width="24" height="8.8" rx="4.4"/><text class="p" x="460.7" y="5.5">8<tspan>%</tspan></text></g>
<g transform="translate(0,1806.2)"><text class="rk" x="16" y="4">47</text><text class="nm" x="24.5" y="6">Ohio</text><text class="a" x="208" y="5">46.3</text><text class="b" x="291" y="5.5">48.1</text><rect class="c6" x="427.5" y="-4.4" width="15.4" height="8.8" rx="4.4"/><text class="p" x="451.5" y="5.5">3.89<tspan>%</tspan></text></g>
<g transform="translate(0,1827.9)"><text class="rk" x="16" y="4">48</text><text class="nm" x="24.5" y="6">Pennsylvania</text><text class="a" x="208" y="5">44.3</text><text class="b" x="291" y="5.5">43.2</text><rect class="c7" x="422.4" y="-4.4" width="12.8" height="8.8" rx="4.4"/><text class="p" x="418.4" y="5.5" text-anchor="end">-2.48<tspan>%</tspan></text></g>
<g transform="translate(0,1849.6)"><text class="rk" x="16" y="4">49</text><text class="nm" x="24.5" y="6">Utah</text><text class="a" x="208" y="5">22.3</text><text class="b" x="291" y="5.5">21.1</text><rect class="c7" x="415.8" y="-4.4" width="19.4" height="8.8" rx="4.4"/><text class="p" x="411.2" y="5.5" text-anchor="end">-5.38<tspan>%</tspan></text></g>
<g transform="translate(0,1871.3)"><text class="rk" x="16" y="4">50</text><text class="nm" x="24.5" y="6">New Hampshire</text><text class="a" x="208" y="5">37</text><text class="b" x="291" y="5.5">32.3</text><rect class="c7" x="400.5" y="-4.4" width="34.7" height="8.8" rx="4.4"/><text class="p" x="395.4" y="5.5" text-anchor="end">-12.7<tspan>%</tspan></text></g>

<!-- bottom section headers -->
<rect x="0" y="1906" width="333" height="23.3" fill="#2e2e2e"/>
<rect x="0" y="1934" width="333" height="24" fill="#2e2e2e"/>
<text x="18" y="1923.5" font-size="15.5" font-weight="bold" style="fill:#fff" textLength="228" lengthAdjust="spacingAndGlyphs">States With the Highest Rates</text>
<text x="18" y="1951.7" font-size="15.5" font-weight="bold" style="fill:#fff" textLength="296" lengthAdjust="spacingAndGlyphs">of Drug Overdose Deaths per 100,000</text>
<rect x="448" y="1906" width="333" height="23.3" fill="#bdbdbd"/>
<rect x="448" y="1934" width="333" height="24" fill="#bdbdbd"/>
<text x="465.3" y="1923.5" font-size="15.5" font-weight="bold" textLength="225" lengthAdjust="spacingAndGlyphs">States With the Lowest Rates</text>
<text x="465.3" y="1951.7" font-size="15.5" font-weight="bold" textLength="297.5" lengthAdjust="spacingAndGlyphs">of Drug Overdose Deaths per 100,000</text>
<g stroke="#9a9a9a" stroke-width="1.2" fill="none">
<path d="M362 1946 H340 M345 1942.5 L340 1946 L345 1949.5"/>
<path d="M418 1946 H441 M436 1942.5 L441 1946 L436 1949.5"/>
</g>
<text x="390" y="1951.5" font-size="15" text-anchor="middle" style="fill:#8a8a8a" textLength="48" lengthAdjust="spacingAndGlyphs">(2021)</text>

<!-- left chart axes -->
<g stroke="#aaa" stroke-width="1">
<line x1="137.3" y1="1997" x2="137.3" y2="2271"/>
<line x1="137.3" y1="2271" x2="348" y2="2271"/>
<line x1="179.3" y1="2265" x2="179.3" y2="2271"/>
<line x1="221.3" y1="2265" x2="221.3" y2="2271"/>
<line x1="263.3" y1="2265" x2="263.3" y2="2271"/>
<line x1="305.3" y1="2265" x2="305.3" y2="2271"/>
<line x1="347.3" y1="2265" x2="347.3" y2="2271"/>
<line x1="586.7" y1="1997" x2="586.7" y2="2271"/>
<line x1="586.7" y1="2271" x2="670.5" y2="2271"/>
<line x1="628.3" y1="2265" x2="628.3" y2="2271"/>
<line x1="670" y1="2265" x2="670" y2="2271"/>
</g>
<text class="ax" x="137.3" y="2285">0</text>
<text class="ax" x="179.3" y="2285">20</text>
<text class="ax" x="221.3" y="2285">40</text>
<text class="ax" x="263.3" y="2285">60</text>
<text class="ax" x="305.3" y="2285">80</text>
<text class="ax" x="347.3" y="2285">100</text>
<text class="ax" x="586.7" y="2285">0</text>
<text class="ax" x="628.3" y="2285">20</text>
<text class="ax" x="670" y="2285">40</text>

<!-- left chart rows -->
<g fill="#333">
<rect x="133.3" y="2006.2" width="199.4" height="9" rx="4.5"/>
<rect x="133.3" y="2033" width="127.4" height="9" rx="4.5"/>
<rect x="133.3" y="2059.8" width="125.9" height="9" rx="4.5"/>
<rect x="133.3" y="2086.6" width="125.3" height="9" rx="4.5"/>
<rect x="133.3" y="2113.4" width="121.9" height="9" rx="4.5"/>
<rect x="133.3" y="2140.2" width="116.9" height="9" rx="4.5"/>
<rect x="133.3" y="2167" width="109.5" height="9" rx="4.5"/>
<rect x="133.3" y="2193.8" width="107.4" height="9" rx="4.5"/>
<rect x="133.3" y="2220.6" width="99.2" height="9" rx="4.5"/>
<rect x="133.3" y="2247.4" width="98.8" height="9" rx="4.5"/>
</g>
<g>
<text class="br" x="15.5" y="2015">1</text><text class="bn" x="24" y="2016.7">West Viriginia</text><text class="bv" x="343.2" y="2017.2">90.9</text>
<text class="br" x="15.5" y="2041.8">2</text><text class="bn" x="24" y="2043.5">Tennessee</text><text class="bv" x="271.2" y="2044">56.6</text>
<text class="br" x="15.5" y="2068.6">3</text><text class="bn" x="24" y="2070.3">Louisiana</text><text class="bv" x="269.7" y="2070.8">55.9</text>
<text class="br" x="15.5" y="2095.4">4</text><text class="bn" x="24" y="2097.1">Kentucky</text><text class="bv" x="269.1" y="2097.6">55.6</text>
<text class="br" x="15.5" y="2122.2">5</text><text class="bn" x="24" y="2123.9">Delaware</text><text class="bv" x="265.7" y="2124.4">54.0</text>
<text class="br" x="15.5" y="2149">6</text><text class="bn" x="24" y="2150.7">New Mexico</text><text class="bv" x="260.7" y="2151.2">51.6</text>
<text class="br" x="15.5" y="2175.8">7</text><text class="bn" x="24" y="2177.5">Ohio</text><text class="bv" x="253.3" y="2178">48.1</text>
<text class="br" x="15.5" y="2202.6">8</text><text class="bn" x="24" y="2204.3">Maine</text><text class="bv" x="251.2" y="2204.8">47.1</text>
<text class="br" x="15.5" y="2229.4">9</text><text class="bn" x="24" y="2231.1">Pennsylvania</text><text class="bv" x="243" y="2231.6">43.2</text>
<text class="br" x="15.5" y="2256.2">10</text><text class="bn" x="24" y="2257.9">Indiana</text><text class="bv" x="243.5" y="2258.4">43.0</text>
</g>

<!-- right chart rows -->
<g fill="#b0b0b0">
<rect x="582.2" y="2006.2" width="32.2" height="9" rx="4.5"/>
<rect x="582.2" y="2033" width="34.7" height="9" rx="4.5"/>
<rect x="582.2" y="2059.8" width="40.3" height="9" rx="4.5"/>
<rect x="582.2" y="2086.6" width="43.4" height="9" rx="4.5"/>
<rect x="582.2" y="2113.4" width="44.3" height="9" rx="4.5"/>
<rect x="582.2" y="2140.2" width="44.5" height="9" rx="4.5"/>
<rect x="582.2" y="2167" width="47.8" height="9" rx="4.5"/>
<rect x="582.2" y="2193.8" width="48" height="9" rx="4.5"/>
<rect x="582.2" y="2220.6" width="49.1" height="9" rx="4.5"/>
<rect x="582.2" y="2247.4" width="52.4" height="9" rx="4.5"/>
</g>
<g>
<text class="br" x="457" y="2015">1</text><text class="bn" x="465" y="2016.7">Nebraska</text><text class="bv" x="625" y="2017.2">11.4</text>
<text class="br" x="457" y="2041.8">2</text><text class="bn" x="465" y="2043.5">South Dakota</text><text class="bv" x="627.4" y="2044">12.6</text>
<text class="br" x="457" y="2068.6">3</text><text class="bn" x="465" y="2070.3">Iowa</text><text class="bv" x="633" y="2070.8">15.3</text>
<text class="br" x="457" y="2095.4">4</text><text class="bn" x="465" y="2097.1">Texas</text><text class="bv" x="636.1" y="2097.6">16.8</text>
<text class="br" x="457" y="2122.2">5</text><text class="bn" x="465" y="2123.9">North Dakota</text><text class="bv" x="637" y="2124.4">17.2</text>
<text class="br" x="457" y="2149">6</text><text class="bn" x="465" y="2150.7">Hawaii</text><text class="bv" x="637.2" y="2151.2">17.3</text>
<text class="br" x="457" y="2175.8">7</text><text class="bn" x="465" y="2177.5">Wyoming</text><text class="bv" x="640.5" y="2178">18.9</text>
<text class="br" x="457" y="2202.6">8</text><text class="bn" x="465" y="2204.3">Idaho</text><text class="bv" x="640.7" y="2204.8">19.0</text>
<text class="br" x="457" y="2229.4">9</text><text class="bn" x="465" y="2231.1">Montana</text><text class="bv" x="641.8" y="2231.6">19.5</text>
<text class="br" x="457" y="2256.2">10</text><text class="bn" x="465" y="2257.9">Utah</text><text class="bv" x="645.1" y="2258.4">21.1</text>
</g>

<!-- logo -->
<g opacity="0.35">
<text x="447.5" y="2348.5" font-size="37" font-weight="bold" style="fill:#999" textLength="115" lengthAdjust="spacingAndGlyphs">NYReq</text>
<text x="562.5" y="2348.5" font-size="37" font-weight="bold" style="fill:#999" textLength="169" lengthAdjust="spacingAndGlyphs">uirements</text>
</g>
<text x="446" y="2345" font-size="37" font-weight="bold" style="fill:url(#og)" textLength="115" lengthAdjust="spacingAndGlyphs">NYReq</text>
<text x="561" y="2345" font-size="37" font-weight="bold" style="fill:#3b3b3b" textLength="169" lengthAdjust="spacingAndGlyphs">uirements</text>
<text x="730" y="2345" font-size="28" font-weight="bold" style="fill:#e8731f">.</text>
<text x="738" y="2345" font-size="28" font-weight="bold" style="fill:#3b3b3b" textLength="43" lengthAdjust="spacingAndGlyphs">com</text>

<!-- sources -->
<text x="24.5" y="2367.5" font-size="14" font-weight="bold">Sources:</text>
<text x="24.5" y="2385.5" font-size="14" style="fill:#444" textLength="644" lengthAdjust="spacingAndGlyphs">https://www.cdc.gov/nchs/pressroom/sosmap/drug_poisoning_mortality/drug_poisoning.htm</text>
</svg>
</body></html>
